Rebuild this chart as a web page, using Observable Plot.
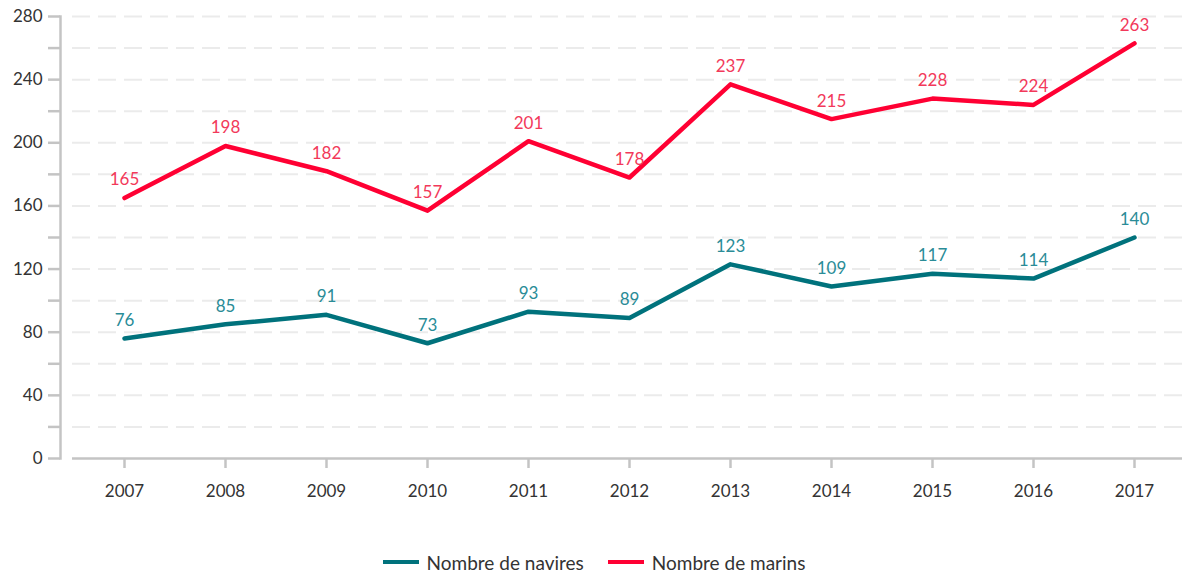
<!DOCTYPE html>
<html>
<head>
<meta charset="utf-8">
<script src="https://cdn.jsdelivr.net/npm/d3@7"></script>
<script src="https://cdn.jsdelivr.net/npm/@observablehq/plot@0.6"></script>
<style>
  html, body { margin: 0; padding: 0; background: #fff; }
  body { width: 1182px; height: 575px; overflow: hidden; font-family: "Source Sans Pro", Lato, "Open Sans", sans-serif; }
  #legend { display: flex; justify-content: center; align-items: center; gap: 24px; height: 64px; font-size: 19px; color: #333; padding-left: 6px; box-sizing: border-box; }
  #legend .item { display: flex; align-items: center; gap: 8px; }
  #legend .sw { display: inline-block; width: 36px; height: 4.5px; }
</style>
</head>
<body>
<div id="chart"></div>
<div id="legend"></div>
<script>
const years = ["2007","2008","2009","2010","2011","2012","2013","2014","2015","2016","2017"];
const navires = [76, 85, 91, 73, 93, 89, 123, 109, 117, 114, 140];
const marins = [165, 198, 182, 157, 201, 178, 237, 215, 228, 224, 263];
const seriesNames = ["Nombre de navires", "Nombre de marins"];
const lineColors = ["#00727c", "#ff0033"];
const labelColors = ["#2a8c97", "#f2395a"];
const yTicksMajor = [0, 40, 80, 120, 160, 200, 240, 280];
const yTicksAll = d3.range(0, 281, 20);
const gridTicks = yTicksAll.filter(d => d > 0);

const rows = [];
years.forEach((y, i) => {
  rows.push({year: y, value: navires[i], series: seriesNames[0]});
  rows.push({year: y, value: marins[i], series: seriesNames[1]});
});

const H = 530;
const font = '"Source Sans Pro", Lato, "Open Sans", sans-serif';

const chart = Plot.plot({
  width: 1182,
  height: H,
  marginTop: 16,
  marginBottom: H - 458,
  marginLeft: 60,
  marginRight: 0,
  style: {fontFamily: font, fontSize: "17px", color: "#333", background: "#fff"},
  x: {type: "point", domain: years, range: [123, 1134], padding: 0, label: null},
  y: {domain: [0, 280], label: null},
  color: {domain: seriesNames, range: lineColors},
  marks: [
    Plot.ruleY(gridTicks, {y: d => d, stroke: "#ebebeb", strokeWidth: 2, strokeDasharray: "18,8", insetLeft: 12}),
    Plot.frame({anchor: "left", stroke: "#c4c4c4", strokeWidth: 2.5}),
    Plot.ruleY([0], {stroke: "#c4c4c4", strokeWidth: 2.5, insetLeft: 12}),
    Plot.axisY({ticks: yTicksAll, tickSize: 12, tickFormat: () => "", stroke: "#c4c4c4", strokeWidth: 2.5, label: null}),
    Plot.axisY({ticks: yTicksMajor, tickSize: 0, tickPadding: 18, fontSize: 17, fill: "#333", label: null}),
    Plot.axisX({ticks: years, tickSize: 10, tickPadding: 16, stroke: "#c4c4c4", strokeWidth: 2.5, fontSize: 17, fill: "#333", label: null}),
    Plot.line(rows, {x: "year", y: "value", z: "series", stroke: "series", strokeWidth: 4.5, strokeLinejoin: "round"}),
    Plot.text(rows, {x: "year", y: "value", text: d => String(d.value), dy: -18, fontSize: 17,
      fill: d => labelColors[seriesNames.indexOf(d.series)]})
  ]
});
document.getElementById("chart").appendChild(chart);

const legend = document.getElementById("legend");
seriesNames.forEach((n, i) => {
  const it = document.createElement("span");
  it.className = "item";
  const sw = document.createElement("span");
  sw.className = "sw";
  sw.style.background = lineColors[i];
  const t = document.createElement("span");
  t.textContent = n;
  it.appendChild(sw); it.appendChild(t);
  legend.appendChild(it);
});
</script>
</body>
</html>
